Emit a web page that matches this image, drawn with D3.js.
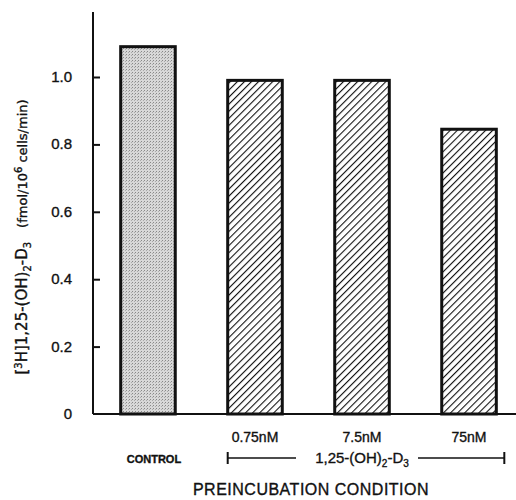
<!DOCTYPE html>
<html>
<head>
<meta charset="utf-8">
<script src="https://cdn.jsdelivr.net/npm/d3@7"></script>
<style>
  body { margin: 0; background: #fff; }
  text { font-family: "Liberation Sans", Arial, sans-serif; fill: #111; stroke: #111; stroke-width: 0.35px; }
</style>
</head>
<body>
<div id="chart"></div>
<script>
// data
var conditions = ["CONTROL", "0.75nM", "7.5nM", "75nM"];
var values = [1.09, 0.99, 0.99, 0.845];
var fills = ["stipple", "hatch", "hatch", "hatch"];
var yTicks = [0, 0.2, 0.4, 0.6, 0.8, 1.0];
var yTickLabels = ["0", "0.2", "0.4", "0.6", "0.8", "1.0"];

var width = 516, height = 500;
var margin = { left: 93, top: 12, bottom: 86 };

var svg = d3.select("#chart").append("svg")
  .attr("width", width)
  .attr("height", height);

var defs = svg.append("defs");
var stip = defs.append("pattern")
  .attr("id", "stipple").attr("patternUnits", "userSpaceOnUse")
  .attr("width", 3).attr("height", 3);
stip.append("rect").attr("width", 3).attr("height", 3).attr("fill", "#d8d8d8");
stip.append("rect").attr("x", 0).attr("y", 0).attr("width", 1).attr("height", 1).attr("fill", "#888");
stip.append("rect").attr("x", 2).attr("y", 1).attr("width", 1).attr("height", 1).attr("fill", "#aaa");

var hatch = defs.append("pattern")
  .attr("id", "hatch").attr("patternUnits", "userSpaceOnUse")
  .attr("width", 5).attr("height", 5)
  .attr("patternTransform", "rotate(45)");
hatch.append("rect").attr("width", 5).attr("height", 5).attr("fill", "#fff");
hatch.append("line").attr("x1", 0).attr("y1", 0).attr("x2", 0).attr("y2", 5)
  .attr("stroke", "#111").attr("stroke-width", 2.2);

var y = d3.scaleLinear().domain([0, 1.0]).range([414, 77]);
var x = d3.scaleBand().domain(conditions).range([95, 522]).paddingInner(0.49).paddingOuter(0.24);

// axes lines
svg.append("line").attr("x1", margin.left).attr("x2", margin.left)
  .attr("y1", y(0)).attr("y2", margin.top)
  .attr("stroke", "#111").attr("stroke-width", 2);
svg.append("line").attr("x1", margin.left).attr("x2", width)
  .attr("y1", y(0)).attr("y2", y(0))
  .attr("stroke", "#111").attr("stroke-width", 2);

var yAxis = svg.append("g")
  .attr("transform", "translate(" + margin.left + ",0)")
  .call(d3.axisRight(y).tickValues(yTicks.slice(1)).tickSize(7).tickFormat(""));
yAxis.select(".domain").remove();
yAxis.selectAll("line").attr("stroke", "#111").attr("stroke-width", 2);

svg.selectAll(".ylab").data(yTicks).enter().append("text")
  .attr("x", 72).attr("y", function(d) { return y(d) + 5; })
  .attr("text-anchor", "end")
  .style("font-size", "15px")
  .text(function(d, i) { return yTickLabels[i]; });

// bars
svg.selectAll(".bar").data(values).enter().append("rect")
  .attr("x", function(d, i) { return x(conditions[i]); })
  .attr("width", x.bandwidth())
  .attr("y", function(d) { return y(d); })
  .attr("height", function(d) { return y(0) - y(d); })
  .attr("fill", function(d, i) { return "url(#" + fills[i] + ")"; })
  .attr("stroke", "#111").attr("stroke-width", 3);

// concentration labels
svg.selectAll(".conc").data(conditions.slice(1)).enter().append("text")
  .attr("x", function(d) { return x(d) + x.bandwidth() / 2; })
  .attr("y", 442)
  .attr("text-anchor", "middle")
  .style("font-size", "14px")
  .text(function(d) { return d; });

svg.append("text")
  .attr("x", x("CONTROL") + x.bandwidth() / 2 + 6).attr("y", 463)
  .attr("text-anchor", "middle")
  .style("font-size", "11px").style("font-weight", "bold")
  .text("CONTROL");

// bracket for the treatment group
var bx0 = x("0.75nM"), bx1 = x("75nM") + x.bandwidth() + 8;
var by = 458;
svg.append("line").attr("x1", bx0).attr("x2", 296).attr("y1", by).attr("y2", by)
  .attr("stroke", "#111").attr("stroke-width", 1.5);
svg.append("line").attr("x1", 418).attr("x2", bx1).attr("y1", by).attr("y2", by)
  .attr("stroke", "#111").attr("stroke-width", 1.5);
[bx0, bx1].forEach(function(bx) {
  svg.append("line").attr("x1", bx).attr("x2", bx).attr("y1", by - 6).attr("y2", by + 6)
    .attr("stroke", "#111").attr("stroke-width", 2);
});
var g = svg.append("text").attr("x", 362).attr("y", 463)
  .attr("text-anchor", "middle").style("font-size", "15px");
g.append("tspan").text("1,25-(OH)");
g.append("tspan").attr("dy", 4).style("font-size", "10px").text("2");
g.append("tspan").attr("dy", -4).text("-D");
g.append("tspan").attr("dy", 4).style("font-size", "10px").text("3");

svg.append("text")
  .attr("x", 311).attr("y", 495)
  .attr("text-anchor", "middle")
  .style("font-size", "16px")
  .style("letter-spacing", "0.5px")
  .text("PREINCUBATION  CONDITION");

// y axis title
var yl = svg.append("text")
  .attr("transform", "translate(27,237) rotate(-90)")
  .attr("text-anchor", "middle")
  .style("font-family", "'DejaVu Sans', sans-serif")
  .style("font-size", "15px");
yl.append("tspan").text("[");
yl.append("tspan").attr("dy", -5).style("font-size", "10px").text("3");
yl.append("tspan").attr("dy", 5).text("H]1,25-(OH)");
yl.append("tspan").attr("dy", 4).style("font-size", "10px").text("2");
yl.append("tspan").attr("dy", -4).text("-D");
yl.append("tspan").attr("dy", 4).style("font-size", "10px").text("3");
yl.append("tspan").attr("dy", -4).attr("dx", 14).style("font-size", "13px").text("(fmol/10");
yl.append("tspan").attr("dy", -5).style("font-size", "10px").text("6");
yl.append("tspan").attr("dy", 5).style("font-size", "13px").text(" cells/min)");
</script>
</body>
</html>
